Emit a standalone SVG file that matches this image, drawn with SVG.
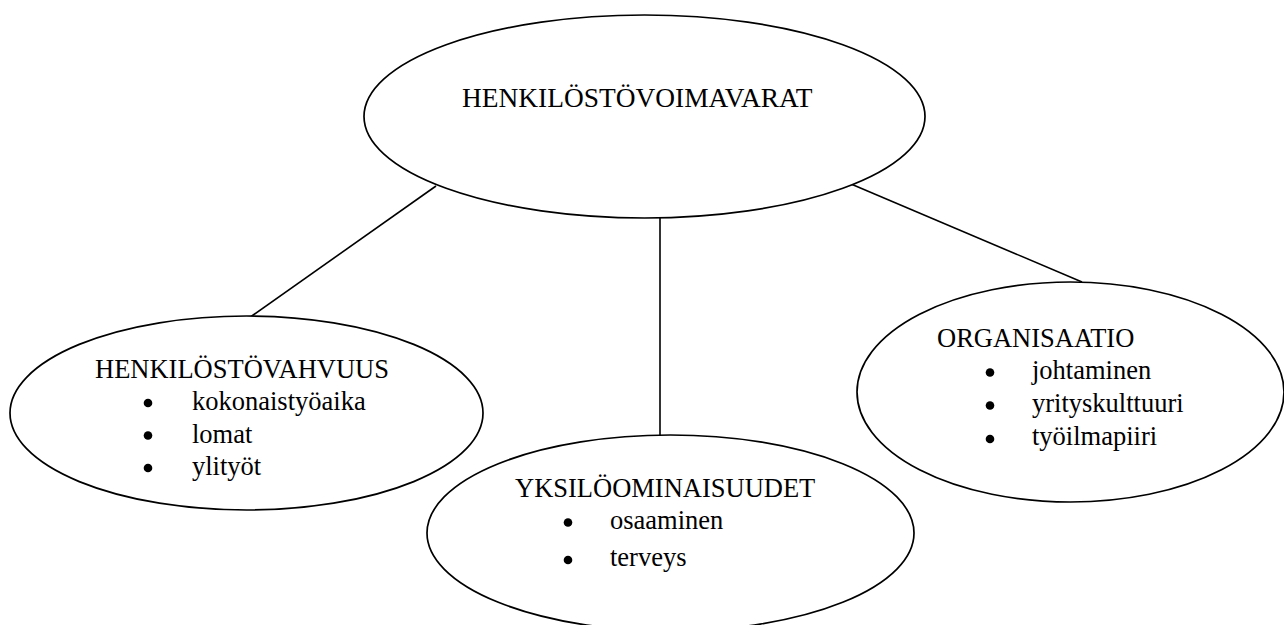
<svg xmlns="http://www.w3.org/2000/svg" width="1284" height="625" viewBox="0 0 1284 625">
<style>
.shape{fill:#fff;stroke:#000;stroke-width:1.7}
.conn{stroke:#000;stroke-width:1.6;fill:none}
.t{font-family:'Liberation Serif','Times New Roman','DejaVu Serif',serif;font-size:26.5px;fill:#000}
.dot{fill:#000}
</style>
<rect width="1284" height="625" fill="#fff"/>
<g id="connectors">
<line class="conn" x1="436" y1="186" x2="249" y2="318"/>
<line class="conn" x1="660" y1="218" x2="660" y2="435"/>
<line class="conn" x1="851" y1="184" x2="1082" y2="282"/>
</g>
<g id="henkilostovoimavarat">
<ellipse class="shape" cx="644.5" cy="116.5" rx="280.5" ry="101.5"/>
<text class="t" x="462" y="107" style="font-size:27.4px">HENKILÖSTÖVOIMAVARAT</text>
</g>
<g id="henkilostovahvuus">
<ellipse class="shape" cx="246.5" cy="413" rx="236.5" ry="97"/>
<text class="t" x="95" y="378">HENKILÖSTÖVAHVUUS</text>
<circle class="dot" cx="148" cy="403" r="4.3"/>
<circle class="dot" cx="148" cy="435.5" r="4.3"/>
<circle class="dot" cx="148" cy="468" r="4.3"/>
<text class="t" x="192" y="410">kokonaistyöaika</text>
<text class="t" x="192" y="443">lomat</text>
<text class="t" x="192" y="475">ylityöt</text>
</g>
<g id="yksiloominaisuudet">
<ellipse class="shape" cx="670.5" cy="533" rx="243.5" ry="98"/>
<text class="t" x="515" y="497">YKSILÖOMINAISUUDET</text>
<circle class="dot" cx="568" cy="522.5" r="4.3"/>
<circle class="dot" cx="568" cy="560" r="4.3"/>
<text class="t" x="610" y="529">osaaminen</text>
<text class="t" x="610" y="566">terveys</text>
</g>
<g id="organisaatio">
<ellipse class="shape" cx="1070.5" cy="392" rx="213.5" ry="110"/>
<text class="t" x="937" y="347">ORGANISAATIO</text>
<circle class="dot" cx="990" cy="372.5" r="4.3"/>
<circle class="dot" cx="990" cy="405.5" r="4.3"/>
<circle class="dot" cx="990" cy="439" r="4.3"/>
<text class="t" x="1032" y="379">johtaminen</text>
<text class="t" x="1032" y="412">yrityskulttuuri</text>
<text class="t" x="1032" y="445">työilmapiiri</text>
</g>
</svg>
